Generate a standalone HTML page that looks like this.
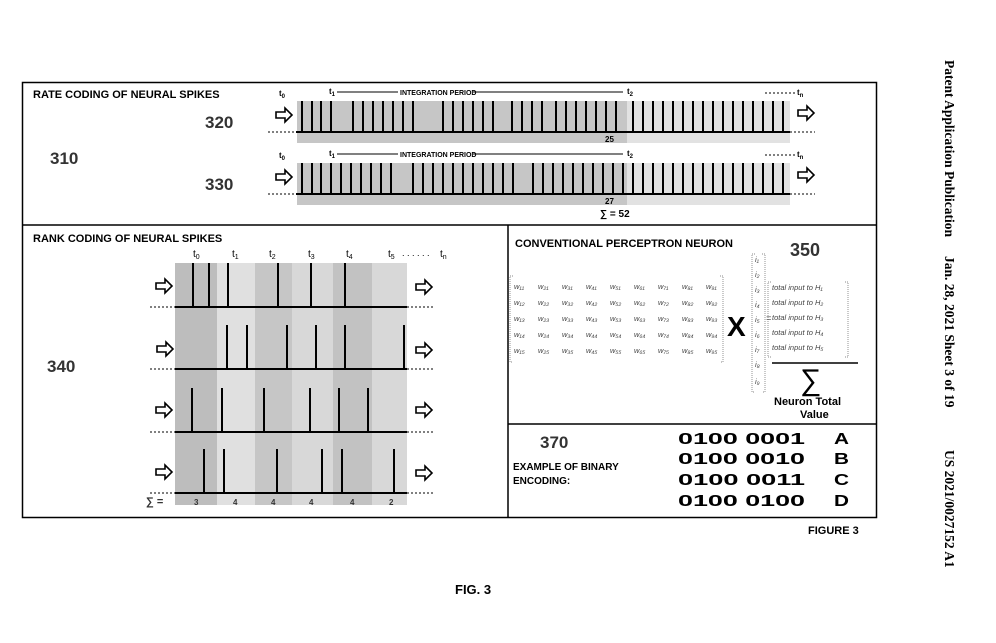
<!DOCTYPE html>
<html><head><meta charset="utf-8"><style>
body{margin:0;background:#fff;width:996px;height:643px;overflow:hidden}
svg{display:block}
text{font-family:"Liberation Sans",sans-serif}
.b{font-weight:bold}
.w{font-family:"Liberation Serif",serif;font-style:italic;font-size:7.5px;fill:#444}
.sr{font-family:"Liberation Serif",serif;font-weight:bold;font-size:13.5px}
</style></head><body>
<svg width="996" height="643" viewBox="0 0 996 643" xmlns="http://www.w3.org/2000/svg">
<defs>
<g id="arr"><path d="M-8,-3 H1 V-7 L8,0 L1,7 V3 H-8 Z" fill="#fff" stroke="#000" stroke-width="1.6"/></g>
</defs>
<rect x="22.5" y="82.5" width="854" height="435" fill="none" stroke="#000" stroke-width="1.5"/>
<line x1="22" y1="225" x2="877" y2="225" stroke="#000" stroke-width="1.5"/>
<line x1="508" y1="225" x2="508" y2="517" stroke="#000" stroke-width="1.5"/>
<line x1="508" y1="424" x2="877" y2="424" stroke="#000" stroke-width="1.5"/>

<text x="33" y="98" class="b" font-size="11">RATE CODING OF NEURAL SPIKES</text>
<text x="205" y="128" class="b" font-size="17" fill="#333">320</text>
<text x="205" y="190" class="b" font-size="17" fill="#333">330</text>
<text x="50" y="164" class="b" font-size="17" fill="#333">310</text>
<rect x="297" y="101" width="493" height="42" fill="#e2e2e2"/>
<rect x="297" y="101" width="330" height="42" fill="#c6c6c6"/>
<rect x="297" y="163" width="493" height="42" fill="#e2e2e2"/>
<rect x="297" y="163" width="330" height="42" fill="#c6c6c6"/>
<g font-size="8" class="b">
<text x="279" y="96">t<tspan font-size="6" dy="2">0</tspan></text>
<text x="329" y="94">t<tspan font-size="6" dy="2">1</tspan></text>
<text x="279" y="158">t<tspan font-size="6" dy="2">0</tspan></text>
<text x="329" y="156">t<tspan font-size="6" dy="2">1</tspan></text>
<text x="400" y="95" font-size="7">INTEGRATION PERIOD</text>
<text x="400" y="157" font-size="7">INTEGRATION PERIOD</text>
<text x="627" y="94">t<tspan font-size="6" dy="2">2</tspan></text>
<text x="627" y="156">t<tspan font-size="6" dy="2">2</tspan></text>
<text x="797" y="95">t<tspan font-size="6" dy="2">n</tspan></text>
<text x="797" y="157">t<tspan font-size="6" dy="2">n</tspan></text>
</g>
<g stroke="#000" stroke-width="1">
<line x1="337" y1="92" x2="398" y2="92"/><line x1="473" y1="92" x2="623" y2="92"/>
<line x1="337" y1="154" x2="398" y2="154"/><line x1="473" y1="154" x2="623" y2="154"/>
</g>
<g stroke="#000" stroke-width="1" stroke-dasharray="2,2">
<line x1="765" y1="93" x2="795" y2="93"/><line x1="765" y1="155" x2="795" y2="155"/>
<line x1="268" y1="132" x2="296" y2="132"/><line x1="790" y1="132" x2="815" y2="132"/>
<line x1="268" y1="194" x2="296" y2="194"/><line x1="790" y1="194" x2="815" y2="194"/>
</g>
<g stroke="#000" stroke-width="2">
<line x1="296" y1="132" x2="790" y2="132"/>
<line x1="296" y1="194" x2="790" y2="194"/>
<path d="M302,101V132M312,101V132M321,101V132M331,101V132M353,101V132M363,101V132M373,101V132M383,101V132M393,101V132M403,101V132M413,101V132M443,101V132M453,101V132M463,101V132M473,101V132M483,101V132M493,101V132M512,101V132M522,101V132M532,101V132M542,101V132M556,101V132M566,101V132M576,101V132M586,101V132M596,101V132M606,101V132M616,101V132M633,101V132M643,101V132M653,101V132M663,101V132M673,101V132M683,101V132M693,101V132M703,101V132M713,101V132M723,101V132M733,101V132M743,101V132M753,101V132M763,101V132M773,101V132M783,101V132"/>
<path d="M302,163V194M312,163V194M321,163V194M331,163V194M341,163V194M351,163V194M361,163V194M371,163V194M381,163V194M391,163V194M413,163V194M423,163V194M433,163V194M443,163V194M453,163V194M463,163V194M473,163V194M483,163V194M493,163V194M503,163V194M513,163V194M533,163V194M543,163V194M553,163V194M563,163V194M573,163V194M583,163V194M593,163V194M603,163V194M613,163V194M623,163V194M633,163V194M643,163V194M653,163V194M663,163V194M673,163V194M683,163V194M693,163V194M703,163V194M713,163V194M723,163V194M733,163V194M743,163V194M753,163V194M763,163V194M773,163V194M783,163V194"/>
</g>
<use href="#arr" x="284" y="115"/><use href="#arr" x="806" y="113"/>
<use href="#arr" x="284" y="177"/><use href="#arr" x="806" y="175"/>
<text x="605" y="142" class="b" font-size="8">25</text>
<text x="605" y="204" class="b" font-size="8">27</text>
<text x="600" y="217" class="b" font-size="10">∑ = 52</text>

<text x="33" y="242" class="b" font-size="11">RANK CODING OF NEURAL SPIKES</text>
<text x="47" y="372" class="b" font-size="17" fill="#333">340</text>
<rect x="175" y="263" width="232" height="242" fill="#d8d8d8"/>
<rect x="175" y="263" width="42" height="242" fill="#bdbdbd"/>
<rect x="255" y="263" width="37" height="242" fill="#c6c6c6"/>
<rect x="333" y="263" width="39" height="242" fill="#c2c2c2"/>
<rect x="217" y="263" width="38" height="242" fill="#e0e0e0"/>
<g font-size="10" font-family="Liberation Sans">
<text x="193" y="257">t<tspan font-size="7" dy="2">0</tspan></text>
<text x="232" y="257">t<tspan font-size="7" dy="2">1</tspan></text>
<text x="269" y="257">t<tspan font-size="7" dy="2">2</tspan></text>
<text x="308" y="257">t<tspan font-size="7" dy="2">3</tspan></text>
<text x="346" y="257">t<tspan font-size="7" dy="2">4</tspan></text>
<text x="388" y="257">t<tspan font-size="7" dy="2">5</tspan></text>
<text x="402" y="256" font-size="9">. . . . . .</text>
<text x="440" y="257">t<tspan font-size="7" dy="2">n</tspan></text>
</g>
<g stroke="#000" stroke-width="1" stroke-dasharray="2,2">
<line x1="150" y1="307" x2="175" y2="307"/><line x1="407" y1="307" x2="435" y2="307"/>
<line x1="150" y1="369" x2="175" y2="369"/><line x1="407" y1="369" x2="435" y2="369"/>
<line x1="150" y1="432" x2="175" y2="432"/><line x1="407" y1="432" x2="435" y2="432"/>
<line x1="150" y1="493" x2="175" y2="493"/><line x1="407" y1="493" x2="435" y2="493"/>
</g>
<g stroke="#000" stroke-width="2">
<line x1="175" y1="307" x2="407" y2="307"/>
<line x1="175" y1="369" x2="407" y2="369"/>
<line x1="175" y1="432" x2="407" y2="432"/>
<line x1="175" y1="493" x2="407" y2="493"/>
<path d="M193,263V307M209,263V307M228,263V307M278,263V307M311,263V307M345,263V307"/>
<path d="M227,325V369M247,325V369M287,325V369M316,325V369M345,325V369M404,325V369"/>
<path d="M192,388V432M222,388V432M264,388V432M310,388V432M339,388V432M368,388V432"/>
<path d="M204,449V493M224,449V493M277,449V493M322,449V493M342,449V493M394,449V493"/>
</g>
<use href="#arr" x="164" y="286"/><use href="#arr" x="424" y="287"/>
<use href="#arr" x="165" y="349"/><use href="#arr" x="424" y="350"/>
<use href="#arr" x="164" y="410"/><use href="#arr" x="424" y="410"/>
<use href="#arr" x="164" y="472"/><use href="#arr" x="424" y="473"/>
<g font-size="8" class="b" fill="#333">
<text x="146" y="505" font-size="11">∑ =</text>
<text x="194" y="505">3</text><text x="233" y="505">4</text><text x="271" y="505">4</text>
<text x="309" y="505">4</text><text x="350" y="505">4</text><text x="389" y="505">2</text>
</g>

<text x="515" y="247" class="b" font-size="11">CONVENTIONAL PERCEPTRON NEURON</text>
<text x="790" y="256" class="b" font-size="18" fill="#333">350</text>
<g stroke="#666" stroke-width="0.7" fill="none" stroke-dasharray="1,1">
<path d="M513,276H510V362H513"/><path d="M720,276H723V362H720"/>
<path d="M755,254H752V392H755"/><path d="M762,254H765V392H762"/>
<path d="M771,282H768V357H771"/><path d="M845,282H848V357H845"/>
</g>
<g class="w">
<text x="514" y="289">w₁₁ <tspan x="538">w₂₁</tspan><tspan x="562">w₃₁</tspan><tspan x="586">w₄₁</tspan><tspan x="610">w₅₁</tspan><tspan x="634">w₆₁</tspan><tspan x="658">w₇₁</tspan><tspan x="682">w₈₁</tspan><tspan x="706">w₉₁</tspan></text>
<text x="514" y="305">w₁₂ <tspan x="538">w₂₂</tspan><tspan x="562">w₃₂</tspan><tspan x="586">w₄₂</tspan><tspan x="610">w₅₂</tspan><tspan x="634">w₆₂</tspan><tspan x="658">w₇₂</tspan><tspan x="682">w₈₂</tspan><tspan x="706">w₉₂</tspan></text>
<text x="514" y="321">w₁₃ <tspan x="538">w₂₃</tspan><tspan x="562">w₃₃</tspan><tspan x="586">w₄₃</tspan><tspan x="610">w₅₃</tspan><tspan x="634">w₆₃</tspan><tspan x="658">w₇₃</tspan><tspan x="682">w₈₃</tspan><tspan x="706">w₉₃</tspan></text>
<text x="514" y="337">w₁₄ <tspan x="538">w₂₄</tspan><tspan x="562">w₃₄</tspan><tspan x="586">w₄₄</tspan><tspan x="610">w₅₄</tspan><tspan x="634">w₆₄</tspan><tspan x="658">w₇₄</tspan><tspan x="682">w₈₄</tspan><tspan x="706">w₉₄</tspan></text>
<text x="514" y="353">w₁₅ <tspan x="538">w₂₅</tspan><tspan x="562">w₃₅</tspan><tspan x="586">w₄₅</tspan><tspan x="610">w₅₅</tspan><tspan x="634">w₆₅</tspan><tspan x="658">w₇₅</tspan><tspan x="682">w₈₅</tspan><tspan x="706">w₉₅</tspan></text>
<text x="755" y="262">i₁</text><text x="755" y="277">i₂</text><text x="755" y="292">i₃</text>
<text x="755" y="307">i₄</text><text x="755" y="322">i₅</text><text x="755" y="337">i₆</text>
<text x="755" y="352">i₇</text><text x="755" y="367">i₈</text><text x="755" y="384">i₉</text>
<text x="772" y="290">total input to H₁</text>
<text x="772" y="305">total input to H₂</text>
<text x="772" y="320">total input to H₃</text>
<text x="772" y="335">total input to H₄</text>
<text x="772" y="350">total input to H₅</text>
<text x="766" y="321" font-size="9">=</text>
</g>
<text x="727" y="336" class="b" font-size="28">X</text>
<line x1="772" y1="363" x2="858" y2="363" stroke="#000" stroke-width="1.5"/>
<text x="800" y="390" font-family="Liberation Serif" font-size="30">∑</text>
<text x="774" y="405" class="b" font-size="11">Neuron Total</text>
<text x="800" y="418" class="b" font-size="11">Value</text>

<text x="540" y="448" class="b" font-size="17" fill="#333">370</text>
<text x="513" y="470" class="b" font-size="10">EXAMPLE OF BINARY</text>
<text x="513" y="484" class="b" font-size="10">ENCODING:</text>
<g class="b" font-size="16">
<text x="678" y="444" textLength="127" lengthAdjust="spacingAndGlyphs">0100 0001</text><text x="834" y="444" textLength="15" lengthAdjust="spacingAndGlyphs">A</text>
<text x="678" y="464" textLength="127" lengthAdjust="spacingAndGlyphs">0100 0010</text><text x="834" y="464" textLength="15" lengthAdjust="spacingAndGlyphs">B</text>
<text x="678" y="485" textLength="127" lengthAdjust="spacingAndGlyphs">0100 0011</text><text x="834" y="485" textLength="15" lengthAdjust="spacingAndGlyphs">C</text>
<text x="678" y="506" textLength="127" lengthAdjust="spacingAndGlyphs">0100 0100</text><text x="834" y="506" textLength="15" lengthAdjust="spacingAndGlyphs">D</text>
</g>
<text x="808" y="534" class="b" font-size="11">FIGURE 3</text>
<text x="455" y="594" font-family="Liberation Serif" font-weight="bold" font-size="13">FIG. 3</text>

<g transform="translate(945,60) rotate(90)">
<text x="0" y="0" class="sr">Patent Application Publication</text>
<text x="196" y="0" class="sr">Jan. 28, 2021  Sheet 3 of 19</text>
<text x="390" y="0" class="sr">US 2021/0027152 A1</text>
</g>
</svg>
</body></html>
